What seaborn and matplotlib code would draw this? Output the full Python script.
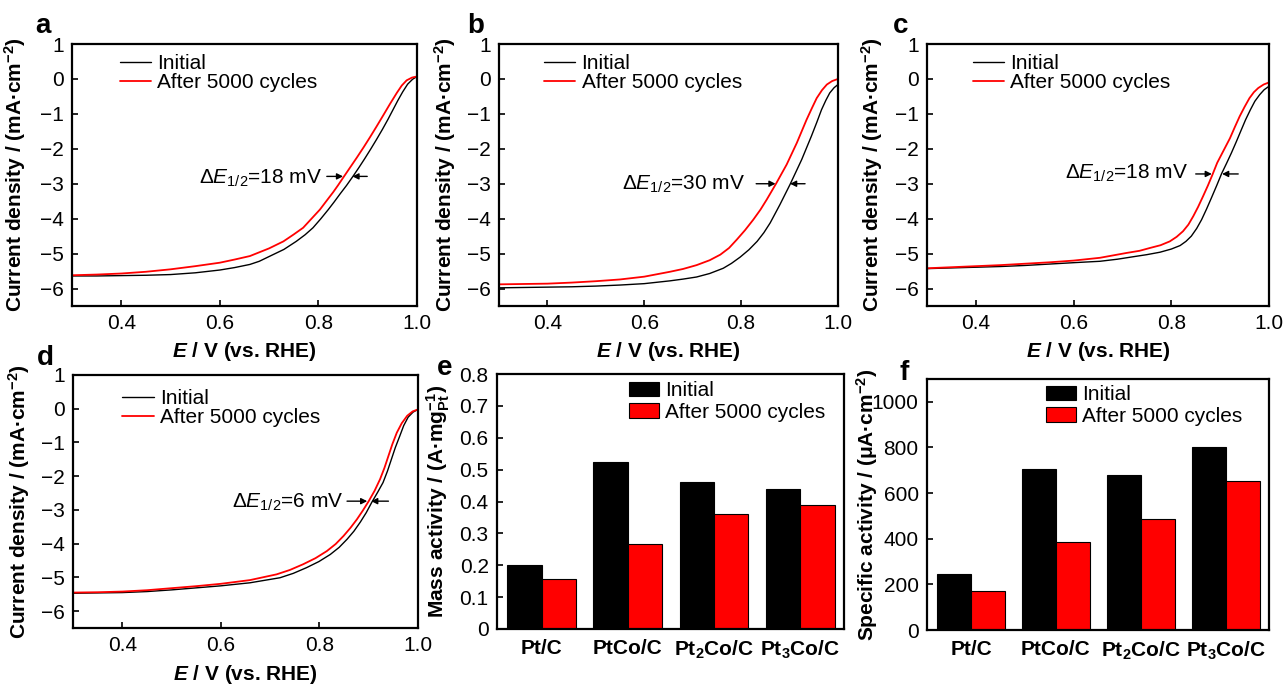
import matplotlib
matplotlib.use("Agg")
import matplotlib.pyplot as plt
import pandas as pd
import seaborn as sns

# ---------------- data ----------------
# LSV curves: potential E (V vs. RHE) and current density j (mA cm^-2)
# (a) Pt/C
e_a_init = [0.30, 0.35, 0.40, 0.45, 0.50, 0.55, 0.60, 0.63, 0.661, 0.68, 0.702, 0.73, 0.755, 0.773,
            0.789, 0.805, 0.820, 0.832, 0.844, 0.857, 0.870, 0.882, 0.894, 0.906, 0.918, 0.930,
            0.941, 0.951, 0.961, 0.971, 0.981, 0.991, 1.000]
j_a_init = [-5.64, -5.64, -5.63, -5.62, -5.60, -5.55, -5.47, -5.40, -5.31, -5.22, -5.07, -4.88, -4.65,
            -4.46, -4.26, -4.00, -3.74, -3.52, -3.29, -3.05, -2.79, -2.54, -2.28, -2.01, -1.73,
            -1.44, -1.16, -0.89, -0.62, -0.37, -0.15, -0.01, 0.07]
e_a_after = [0.30, 0.35, 0.40, 0.45, 0.50, 0.55, 0.60, 0.63, 0.661, 0.700, 0.729, 0.750, 0.769,
             0.786, 0.803, 0.817, 0.830, 0.840, 0.851, 0.864, 0.878, 0.892, 0.905, 0.918, 0.932,
             0.945, 0.959, 0.969, 0.979, 0.990, 1.000]
j_a_after = [-5.62, -5.60, -5.57, -5.52, -5.45, -5.36, -5.26, -5.17, -5.07, -4.85, -4.65, -4.45, -4.26,
             -4.00, -3.74, -3.48, -3.24, -3.04, -2.81, -2.54, -2.25, -1.95, -1.66, -1.36, -1.03,
             -0.72, -0.40, -0.19, -0.04, 0.04, 0.07]

# (b) PtCo/C
e_b_init = [0.30, 0.35, 0.40, 0.45, 0.50, 0.55, 0.60, 0.653, 0.68, 0.708, 0.735, 0.763, 0.780, 0.798,
            0.816, 0.833, 0.847, 0.860, 0.880, 0.901, 0.925, 0.945, 0.956, 0.966, 0.975, 0.983,
            0.992, 1.000]
j_b_init = [-5.98, -5.97, -5.96, -5.95, -5.93, -5.90, -5.86, -5.78, -5.73, -5.67, -5.57, -5.42, -5.28,
            -5.10, -4.89, -4.65, -4.40, -4.12, -3.60, -3.02, -2.31, -1.64, -1.25, -0.88, -0.61,
            -0.40, -0.25, -0.16]
e_b_after = [0.30, 0.35, 0.40, 0.45, 0.50, 0.55, 0.60, 0.653, 0.68, 0.708, 0.735, 0.757, 0.775, 0.791,
             0.808, 0.825, 0.840, 0.853, 0.872, 0.894, 0.915, 0.935, 0.946, 0.956, 0.967, 0.977,
             0.988, 1.000]
j_b_after = [-5.88, -5.87, -5.86, -5.83, -5.79, -5.74, -5.66, -5.52, -5.44, -5.33, -5.19, -5.03, -4.84,
             -4.60, -4.33, -4.03, -3.74, -3.45, -3.00, -2.45, -1.83, -1.17, -0.84, -0.55, -0.32,
             -0.16, -0.06, 0.00]

# (c) Pt2Co/C
e_c_init = [0.30, 0.35, 0.40, 0.45, 0.50, 0.55, 0.60, 0.654, 0.690, 0.722, 0.750, 0.777, 0.800, 0.818,
            0.830, 0.841, 0.852, 0.862, 0.872, 0.882, 0.893, 0.903, 0.913, 0.923, 0.933, 0.942,
            0.952, 0.962, 0.971, 0.981, 0.990, 1.000]
j_c_init = [-5.43, -5.41, -5.39, -5.37, -5.34, -5.30, -5.26, -5.22, -5.16, -5.09, -5.03, -4.96, -4.87,
            -4.77, -4.65, -4.50, -4.28, -4.03, -3.73, -3.41, -3.05, -2.71, -2.42, -2.12, -1.80,
            -1.50, -1.17, -0.88, -0.64, -0.45, -0.31, -0.21]
e_c_after = [0.30, 0.35, 0.40, 0.45, 0.50, 0.55, 0.60, 0.654, 0.709, 0.735, 0.756, 0.778, 0.797,
             0.811, 0.824, 0.835, 0.845, 0.855, 0.865, 0.875, 0.884, 0.894, 0.907, 0.920, 0.930,
             0.940, 0.950, 0.960, 0.969, 0.978, 0.989, 1.000]
j_c_after = [-5.42, -5.39, -5.36, -5.33, -5.29, -5.25, -5.20, -5.12, -4.98, -4.92, -4.84, -4.76, -4.65,
             -4.52, -4.36, -4.17, -3.93, -3.66, -3.36, -3.05, -2.75, -2.40, -2.05, -1.70, -1.38,
             -1.07, -0.80, -0.55, -0.38, -0.26, -0.16, -0.10]

# (d) Pt3Co/C
e_d_init = [0.30, 0.35, 0.40, 0.45, 0.50, 0.55, 0.60, 0.659, 0.720, 0.747, 0.774, 0.799, 0.822, 0.840,
            0.856, 0.870, 0.883, 0.895, 0.906, 0.918, 0.929, 0.938, 0.946, 0.954, 0.963, 0.971,
            0.980, 0.990, 1.000]
j_d_init = [-5.47, -5.46, -5.45, -5.42, -5.37, -5.31, -5.25, -5.16, -5.01, -4.88, -4.71, -4.53, -4.32,
            -4.11, -3.87, -3.63, -3.36, -3.08, -2.78, -2.48, -2.19, -1.85, -1.50, -1.15, -0.81,
            -0.50, -0.25, -0.10, -0.02]
e_d_after = [0.30, 0.35, 0.40, 0.45, 0.50, 0.55, 0.60, 0.659, 0.713, 0.740, 0.767, 0.792, 0.815,
             0.833, 0.849, 0.863, 0.876, 0.888, 0.900, 0.912, 0.923, 0.932, 0.940, 0.948, 0.957,
             0.967, 0.978, 0.989, 1.000]
j_d_after = [-5.45, -5.44, -5.42, -5.38, -5.32, -5.26, -5.19, -5.08, -4.91, -4.78, -4.61, -4.43, -4.22,
             -4.01, -3.77, -3.53, -3.28, -3.02, -2.74, -2.43, -2.09, -1.75, -1.40, -1.05, -0.71,
             -0.43, -0.21, -0.08, -0.02]

# Half-wave potential shifts (mV)
shifts = [18, 30, 18, 6]

# Activities
catalysts = ["Pt/C", "PtCo/C", "Pt$_2$Co/C", "Pt$_3$Co/C"]
states = ["Initial", "After 5000 cycles"]
mass_init = [0.200, 0.525, 0.461, 0.439]
mass_after = [0.157, 0.266, 0.362, 0.388]
spec_init = [244, 706, 678, 800]
spec_after = [171, 384, 488, 655]

# ---------------- style ----------------
sns.set_style("ticks")
plt.rcParams.update({
    "font.family": ["Liberation Sans", "DejaVu Sans"],
    "font.size": 15,
    "text.color": "black",
    "axes.labelcolor": "black",
    "mathtext.fontset": "custom",
    "mathtext.rm": "Liberation Sans",
    "mathtext.it": "Liberation Sans:italic",
    "mathtext.bf": "Liberation Sans:bold",
    "mathtext.bfit": "Liberation Sans:italic:bold",
    "mathtext.default": "regular",
    "axes.linewidth": 1.6,
    "axes.edgecolor": "black",
    "xtick.direction": "in",
    "ytick.direction": "in",
    "xtick.color": "black",
    "ytick.color": "black",
    "xtick.labelcolor": "black",
    "ytick.labelcolor": "black",
    "axes.unicode_minus": True,
})

W, H = 1287, 684
fig = plt.figure(figsize=(W / 100, H / 100), dpi=100)


def px_axes(left, top, right, bottom):
    return fig.add_axes([left / W, 1 - bottom / H, (right - left) / W, (bottom - top) / H])


YLAB_J = "Current density / (mA·cm$^{-2}$)"
XLAB_E = "$\\mathbfit{E}$ / V (vs. RHE)"


def lsv_panel(ax, e_i, j_i, e_f, j_f, shift, txt_xy, arr_y, left_arrow, right_arrow,
              ylab_x, xlab_y, leg_anchor):
    sns.lineplot(x=e_i, y=j_i, color="black", linewidth=1.0, label="Initial",
                 sort=False, estimator=None, ax=ax)
    sns.lineplot(x=e_f, y=j_f, color="red", linewidth=1.3, label="After 5000 cycles",
                 sort=False, estimator=None, ax=ax)
    ax.set_xlim(0.3, 1.0)
    ax.set_ylim(-6.5, 1)
    ax.set_xticks([0.4, 0.6, 0.8, 1.0])
    ax.set_xticklabels(["0.4", "0.6", "0.8", "1.0"])
    ax.set_yticks(range(-6, 2))
    ax.set_yticklabels([("\u2212%d" % -v) if v < 0 else "%d" % v for v in range(-6, 2)])
    ax.tick_params(axis="both", length=4, width=1.2, pad=6, labelsize=15)
    ax.set_xlabel(XLAB_E, fontsize=15, fontweight="bold")
    ax.set_ylabel(YLAB_J, fontsize=15, fontweight="bold")
    ax.yaxis.set_label_coords(ylab_x, 0.5)
    ax.xaxis.set_label_coords(0.5, xlab_y)
    ax.legend(loc="upper left", bbox_to_anchor=leg_anchor, frameon=False, fontsize=15,
              handlelength=1.5, handletextpad=0.3, labelspacing=0.0,
              borderaxespad=0, borderpad=0)
    ax.text(txt_xy[0], txt_xy[1], "Δ$\\mathit{E}_{1/2}$=%d mV" % shift, ha="right",
            va="baseline", fontsize=15)
    arrow = dict(arrowstyle="-|>", color="black", lw=1.0, mutation_scale=9,
                 shrinkA=0, shrinkB=0)
    ax.annotate("", xy=(left_arrow[1], arr_y), xytext=(left_arrow[0], arr_y), arrowprops=arrow)
    ax.annotate("", xy=(right_arrow[1], arr_y), xytext=(right_arrow[0], arr_y), arrowprops=arrow)


ax_a = px_axes(72, 44, 417, 306)
lsv_panel(ax_a, e_a_init, j_a_init, e_a_after, j_a_after, shifts[0],
          (0.807, -3.0), -2.79, (0.817, 0.850), (0.899, 0.869),
          -0.128, -0.13, (0.139, 0.962))

ax_b = px_axes(499, 44, 838, 306)
lsv_panel(ax_b, e_b_init, j_b_init, e_b_after, j_b_after, shifts[1],
          (0.808, -3.17), -3.0, (0.831, 0.871), (0.932, 0.901),
          -0.121, -0.13, (0.133, 0.962))

ax_c = px_axes(927, 44, 1269, 306)
lsv_panel(ax_c, e_c_init, j_c_init, e_c_after, j_c_after, shifts[2],
          (0.834, -2.86), -2.72, (0.850, 0.883), (0.937, 0.904),
          -0.123, -0.13, (0.134, 0.962))

ax_d = px_axes(73, 375, 418, 628)
lsv_panel(ax_d, e_d_init, j_d_init, e_d_after, j_d_after, shifts[3],
          (0.849, -2.93), -2.74, (0.856, 0.897), (0.940, 0.905),
          -0.119, -0.14, (0.143, 0.945))


def bar_panel(ax, v_init, v_after, ylim, yticks, ylabel, ylab_x, leg_anchor, fmt):
    df = pd.DataFrame({
        "catalyst": catalysts * 2,
        "state": [states[0]] * 4 + [states[1]] * 4,
        "value": list(v_init) + list(v_after),
    })
    sns.barplot(data=df, x="catalyst", y="value", hue="state", hue_order=states,
                palette=["black", "red"], saturation=1, edgecolor="black", linewidth=0.8,
                width=0.8, errorbar=None, ax=ax)
    ax.set_xlim(-0.52, 3.51)
    ax.set_ylim(*ylim)
    ax.set_yticks(yticks)
    ax.set_yticklabels([fmt(v) for v in yticks])
    ax.tick_params(axis="y", length=4, width=1.2, pad=6, labelsize=15)
    ax.tick_params(axis="x", length=0, pad=7, labelsize=15)
    for lab in ax.get_xticklabels():
        lab.set_fontweight("bold")
    ax.set_xlabel("")
    ax.set_ylabel(ylabel, fontsize=15, fontweight="bold")
    ax.yaxis.set_label_coords(ylab_x, 0.5)
    old = ax.get_legend()
    handles = list(old.legend_handles)
    labels = [t.get_text() for t in old.get_texts()]
    for h in handles:
        h.set_edgecolor("black")
        h.set_linewidth(0.8)
    ax.legend(handles, labels, loc="upper left", bbox_to_anchor=leg_anchor, frameon=False,
              fontsize=15, handlelength=1.45, handleheight=0.7, handletextpad=0.3,
              labelspacing=0.12, borderaxespad=0, borderpad=0)


ax_e = px_axes(497, 374, 844, 629)
bar_panel(ax_e, mass_init, mass_after, (0, 0.8), [0, 0.1, 0.2, 0.3, 0.4, 0.5, 0.6, 0.7, 0.8],
          "Mass activity / (A·mg$_{Pt}^{-1}$)", -0.13, (0.38, 0.972),
          lambda v: "0" if v == 0 else "%.1f" % v)

ax_f = px_axes(927, 379, 1269, 630)
bar_panel(ax_f, spec_init, spec_after, (0, 1100), [0, 200, 400, 600, 800, 1000],
          "Specific activity / (μA·cm$^{-2}$)", -0.137, (0.348, 0.975),
          lambda v: "%d" % v)

for ax in (ax_a, ax_b, ax_c, ax_d, ax_e, ax_f):
    for sp in ax.spines.values():
        sp.set_visible(True)
        sp.set_linewidth(1.6)

# panel letters
for letter, x, y in [("a", 35, 33), ("b", 467, 33), ("c", 893, 33),
                     ("d", 37, 365), ("e", 437, 375), ("f", 900, 380)]:
    fig.text(x / W, 1 - y / H, letter, fontsize=20, fontweight="bold",
             ha="left", va="baseline")

fig.savefig("out.png", dpi=100)
